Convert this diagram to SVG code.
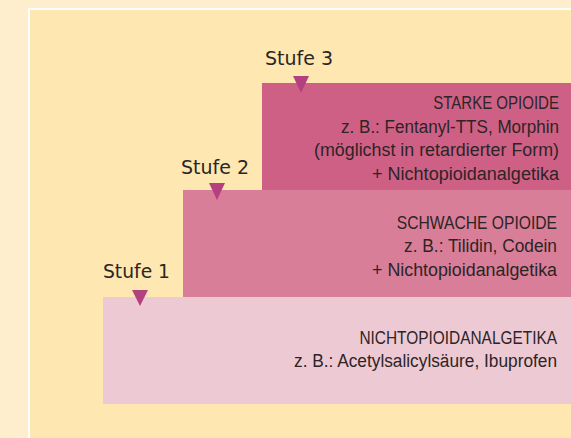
<svg xmlns="http://www.w3.org/2000/svg" width="571" height="438" viewBox="0 0 571 438">
<defs>
<style>
.stufe{font-family:"DejaVu Sans",sans-serif;font-size:19px;fill:#2a2626;}
.t{font-family:"Liberation Sans",Arial,sans-serif;font-size:18px;fill:#2d2426;text-anchor:end;}
.tri{fill:#b3407f;}
</style>
</defs>
<rect x="0" y="0" width="571" height="438" fill="#feeece"/>
<rect x="29" y="9" width="560" height="440" fill="#fee7b0" stroke="#ffffff" stroke-width="2"/>
<g id="stufe3">
<rect x="262" y="83" width="309" height="107" fill="#cf6085"/>
<text class="stufe" x="265" y="65" textLength="68" lengthAdjust="spacingAndGlyphs">Stufe 3</text>
<polygon class="tri" points="293,76 309,76 301,93"/>
<text class="t" transform="translate(559,109) scale(0.835,1)" x="0" y="0">STARKE OPIOIDE</text>
<text class="t" x="559" y="132.5" textLength="218" lengthAdjust="spacingAndGlyphs">z. B.: Fentanyl-TTS, Morphin</text>
<text class="t" x="559" y="156" textLength="245" lengthAdjust="spacingAndGlyphs">(möglichst in retardierter Form)</text>
<text class="t" x="559" y="179.5" textLength="187" lengthAdjust="spacingAndGlyphs">+ Nichtopioidanalgetika</text>
</g>
<g id="stufe2">
<rect x="183" y="190" width="388" height="107" fill="#d97e98"/>
<text class="stufe" x="181" y="174" textLength="68" lengthAdjust="spacingAndGlyphs">Stufe 2</text>
<polygon class="tri" points="209,183 225,183 217,200"/>
<text class="t" transform="translate(557,228.5) scale(0.87,1)" x="0" y="0">SCHWACHE OPIOIDE</text>
<text class="t" x="557" y="252" textLength="153" lengthAdjust="spacingAndGlyphs">z. B.: Tilidin, Codein</text>
<text class="t" x="557" y="275.5" textLength="185" lengthAdjust="spacingAndGlyphs">+ Nichtopioidanalgetika</text>
</g>
<g id="stufe1">
<rect x="103" y="297" width="468" height="107" fill="#edcad3"/>
<text class="stufe" x="103" y="278" textLength="67" lengthAdjust="spacingAndGlyphs">Stufe 1</text>
<polygon class="tri" points="132,290 148,290 140,306"/>
<text class="t" transform="translate(557,343.5) scale(0.857,1)" x="0" y="0">NICHTOPIOIDANALGETIKA</text>
<text class="t" x="557" y="367" textLength="263" lengthAdjust="spacingAndGlyphs">z. B.: Acetylsalicylsäure, Ibuprofen</text>
</g>
<g id="connectors"></g>
</svg>
